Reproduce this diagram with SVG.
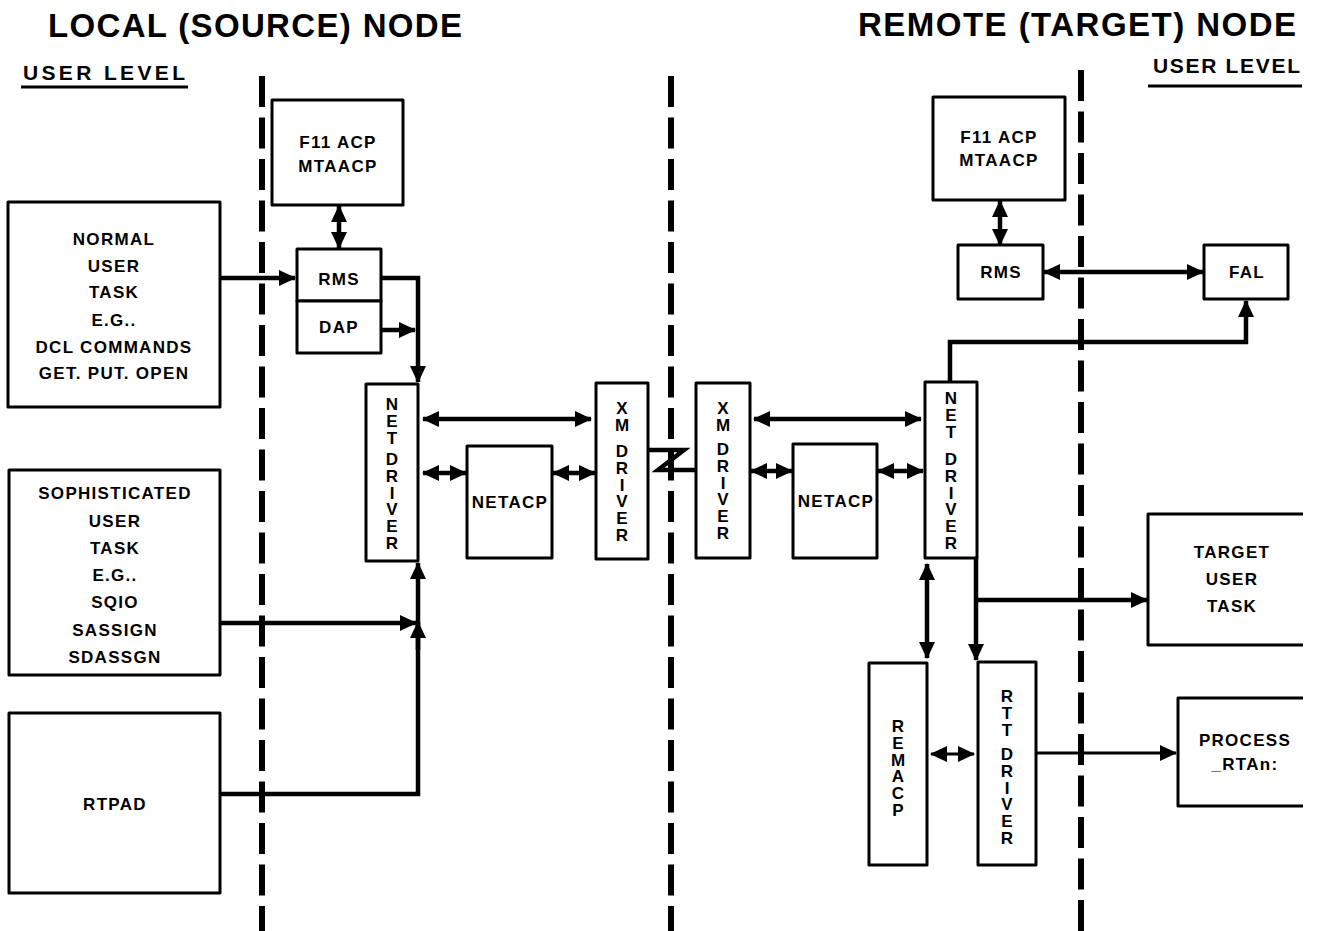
<svg xmlns="http://www.w3.org/2000/svg" width="1322" height="931" viewBox="0 0 1322 931">
<style>
.box{fill:#fff;stroke:#000;stroke-width:3;stroke-linejoin:round}
.t{font-family:"Liberation Sans",Arial,Helvetica,sans-serif;font-weight:bold;font-size:17px;fill:#000;text-anchor:middle;letter-spacing:1.3px}
.v{font-family:"Liberation Sans",Arial,Helvetica,sans-serif;font-weight:bold;font-size:17px;fill:#000;writing-mode:vertical-rl;text-orientation:upright;letter-spacing:-2.2px}
.h{font-family:"Liberation Sans",Arial,Helvetica,sans-serif;font-weight:bold;fill:#000}
.c{fill:none;stroke:#000;stroke-width:4.5}
.c3{fill:none;stroke:#000;stroke-width:3}
.dash{stroke:#000;stroke-width:6;stroke-dasharray:31 10.5}
</style>
<defs>
<marker id="ah" markerUnits="userSpaceOnUse" viewBox="0 0 17 16" markerWidth="17" markerHeight="16" refX="16" refY="8" orient="auto-start-reverse">
<path d="M0,0 L17,8 L0,16 z" fill="#000"/>
</marker>
</defs>
<rect width="1322" height="931" fill="#fff"/>

<g id="titles">
<text class="h" x="48" y="37" font-size="33" textLength="414">LOCAL (SOURCE) NODE</text>
<text class="h" x="858" y="36" font-size="33" textLength="438">REMOTE (TARGET) NODE</text>
<text class="h" x="23" y="80" font-size="21" textLength="162">USER LEVEL</text>
<line x1="21" y1="87" x2="188" y2="87" stroke="#000" stroke-width="3"/>
<text class="h" x="1153" y="73" font-size="21" textLength="147">USER LEVEL</text>
<line x1="1148" y1="86" x2="1302" y2="86" stroke="#000" stroke-width="3"/>
</g>

<g id="boundaries">
<line class="dash" x1="262" y1="76" x2="262" y2="931"/>
<line class="dash" x1="671" y1="76" x2="671" y2="931"/>
<line class="dash" x1="1081" y1="70" x2="1081" y2="931"/>
</g>

<g id="connectors">
<path class="c" d="M220,278 H295" marker-end="url(#ah)"/>
<path class="c" d="M381,278 H418 V382" marker-end="url(#ah)"/>
<path class="c" d="M381,330 H415" marker-end="url(#ah)"/>
<path class="c" d="M220,623 H416" marker-end="url(#ah)"/>
<path class="c" d="M220,794 H418 V563" marker-end="url(#ah)"/>
<path class="c" d="M418,650 V622" marker-end="url(#ah)"/>
<path class="c" d="M339,206 V248" marker-start="url(#ah)" marker-end="url(#ah)"/>
<path class="c" d="M423,419 H591" marker-start="url(#ah)" marker-end="url(#ah)"/>
<path class="c" d="M423,473 H466" marker-start="url(#ah)" marker-end="url(#ah)"/>
<path class="c" d="M553,473 H595" marker-start="url(#ah)" marker-end="url(#ah)"/>
<path class="c" d="M648,450 H684 L658,470 H696" stroke-width="4" stroke-linejoin="miter"/>
<path class="c" d="M754,419 H921" marker-start="url(#ah)" marker-end="url(#ah)"/>
<path class="c" d="M751,471 H792" marker-start="url(#ah)" marker-end="url(#ah)"/>
<path class="c" d="M878,471 H923" marker-start="url(#ah)" marker-end="url(#ah)"/>
<path class="c" d="M950,382 V342 H1246 V301" marker-end="url(#ah)"/>
<path class="c" d="M1000,201 V245" marker-start="url(#ah)" marker-end="url(#ah)"/>
<path class="c" d="M1044,272 H1203" marker-start="url(#ah)" marker-end="url(#ah)"/>
<path class="c" d="M927,564 V658" marker-start="url(#ah)" marker-end="url(#ah)"/>
<path class="c" d="M976,558 V660" marker-end="url(#ah)"/>
<path class="c" d="M976,600 H1147" marker-end="url(#ah)"/>
<path class="c3" d="M931,754 H974" marker-start="url(#ah)" marker-end="url(#ah)"/>
<path class="c3" d="M1036,753 H1176" marker-end="url(#ah)"/>
</g>

<g id="normal-user-task">
<rect class="box" x="8" y="202" width="212" height="205"/>
<text class="t"><tspan x="114" y="245">NORMAL</tspan><tspan x="114" y="272">USER</tspan><tspan x="114" y="298">TASK</tspan><tspan x="114" y="326">E.G..</tspan><tspan x="114" y="353">DCL COMMANDS</tspan><tspan x="114" y="379">GET. PUT. OPEN</tspan></text>
</g>
<g id="sophisticated-user-task">
<rect class="box" x="9" y="470" width="211" height="205"/>
<text class="t"><tspan x="115" y="499">SOPHISTICATED</tspan><tspan x="115" y="527">USER</tspan><tspan x="115" y="554">TASK</tspan><tspan x="115" y="581">E.G..</tspan><tspan x="115" y="608">SQIO</tspan><tspan x="115" y="636">SASSIGN</tspan><tspan x="115" y="663">SDASSGN</tspan></text>
</g>
<g id="rtpad">
<rect class="box" x="9" y="713" width="211" height="180"/>
<text class="t" x="115" y="810">RTPAD</text>
</g>
<g id="f11-local">
<rect class="box" x="272" y="100" width="131" height="105"/>
<text class="t"><tspan x="338" y="148">F11 ACP</tspan><tspan x="338" y="172">MTAACP</tspan></text>
</g>
<g id="rms-local">
<rect class="box" x="297" y="249" width="84" height="52"/>
<text class="t" x="339" y="285">RMS</text>
</g>
<g id="dap-local">
<rect class="box" x="297" y="301" width="84" height="52"/>
<text class="t" x="339" y="333">DAP</text>
</g>
<g id="net-driver-local">
<rect class="box" x="366" y="384" width="52" height="177"/>
<text class="v" x="392" y="395">NET</text>
<text class="v" x="392" y="450">DRIVER</text>
</g>
<g id="netacp-local">
<rect class="box" x="467" y="446" width="85" height="112"/>
<text class="t" x="510" y="508">NETACP</text>
</g>
<g id="xm-driver-local">
<rect class="box" x="596" y="383" width="52" height="176"/>
<text class="v" x="622" y="399">XM</text>
<text class="v" x="622" y="442">DRIVER</text>
</g>
<g id="xm-driver-remote">
<rect class="box" x="696" y="383" width="54" height="175"/>
<text class="v" x="723" y="399">XM</text>
<text class="v" x="723" y="440">DRIVER</text>
</g>
<g id="netacp-remote">
<rect class="box" x="793" y="444" width="84" height="114"/>
<text class="t" x="836" y="507">NETACP</text>
</g>
<g id="net-driver-remote">
<rect class="box" x="925" y="382" width="52" height="176"/>
<text class="v" x="951" y="389">NET</text>
<text class="v" x="951" y="450">DRIVER</text>
</g>
<g id="f11-remote">
<rect class="box" x="933" y="97" width="132" height="103"/>
<text class="t"><tspan x="999" y="143">F11 ACP</tspan><tspan x="999" y="166">MTAACP</tspan></text>
</g>
<g id="rms-remote">
<rect class="box" x="958" y="245" width="85" height="54"/>
<text class="t" x="1001" y="278">RMS</text>
</g>
<g id="fal">
<rect class="box" x="1204" y="245" width="84" height="54"/>
<text class="t" x="1247" y="278">FAL</text>
</g>
<g id="target-user-task">
<path class="box" d="M1303,514 H1148 V645 H1303"/>
<text class="t"><tspan x="1232" y="558">TARGET</tspan><tspan x="1232" y="585">USER</tspan><tspan x="1232" y="612">TASK</tspan></text>
</g>
<g id="remacp">
<rect class="box" x="869" y="663" width="58" height="202"/>
<text class="v" x="898" y="717">REMACP</text>
</g>
<g id="rtt-driver">
<rect class="box" x="978" y="662" width="58" height="203"/>
<text class="v" x="1007" y="687">RTT</text>
<text class="v" x="1007" y="745">DRIVER</text>
</g>
<g id="process">
<path class="box" d="M1303,698 H1178 V806 H1303"/>
<text class="t"><tspan x="1245" y="746">PROCESS</tspan><tspan x="1245" y="770">_RTAn:</tspan></text>
</g>
</svg>
